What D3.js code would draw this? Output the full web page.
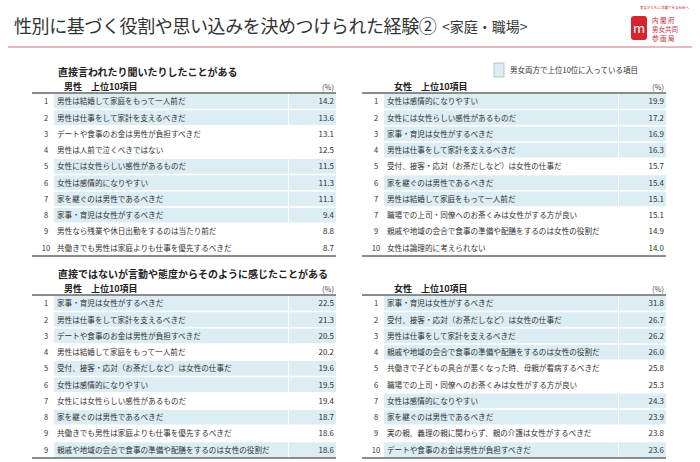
<!DOCTYPE html>
<html><head><meta charset="utf-8">
<script src="https://cdn.jsdelivr.net/npm/d3@7"></script>
<style>body{margin:0;background:#fff;font-family:"Noto Sans CJK JP",sans-serif;}</style>
</head><body><div id="chart"></div>
<script>
const width = 700, height = 462;

// data
const tlRanks = [1,2,3,4,5,6,7,8,9,10];
const tlItems = ["男性は結婚して家庭をもって一人前だ","男性は仕事をして家計を支えるべきだ","デートや食事のお金は男性が負担すべきだ","男性は人前で泣くべきではない","女性には女性らしい感性があるものだ","女性は感情的になりやすい","家を継ぐのは男性であるべきだ","家事・育児は女性がするべきだ","男性なら残業や休日出勤をするのは当たり前だ","共働きでも男性は家庭よりも仕事を優先するべきだ"];
const tlValues = [14.2,13.6,13.1,12.5,11.5,11.3,11.1,9.4,8.8,8.7];
const tlShared = [1,1,0,0,1,1,1,1,0,0];

const trRanks = [1,2,3,4,5,6,7,7,9,10];
const trItems = ["女性は感情的になりやすい","女性には女性らしい感性があるものだ","家事・育児は女性がするべきだ","男性は仕事をして家計を支えるべきだ","受付、接客・応対（お茶だしなど）は女性の仕事だ","家を継ぐのは男性であるべきだ","男性は結婚して家庭をもって一人前だ","職場での上司・同僚へのお茶くみは女性がする方が良い","親戚や地域の会合で食事の準備や配膳をするのは女性の役割だ","女性は論理的に考えられない"];
const trValues = [19.9,17.2,16.9,16.3,15.7,15.4,15.1,15.1,14.9,14.0];
const trShared = [1,1,1,1,0,1,1,0,0,0];

const blRanks = [1,2,3,4,5,6,7,8,9,9];
const blItems = ["家事・育児は女性がするべきだ","男性は仕事をして家計を支えるべきだ","デートや食事のお金は男性が負担すべきだ","男性は結婚して家庭をもって一人前だ","受付、接客・応対（お茶だしなど）は女性の仕事だ","女性は感情的になりやすい","女性には女性らしい感性があるものだ","家を継ぐのは男性であるべきだ","共働きでも男性は家庭よりも仕事を優先するべきだ","親戚や地域の会合で食事の準備や配膳をするのは女性の役割だ"];
const blValues = [22.5,21.3,20.5,20.2,19.6,19.5,19.4,18.7,18.6,18.6];
const blShared = [1,1,1,0,1,1,0,1,0,1];

const brRanks = [1,2,3,4,5,6,7,8,9,10];
const brItems = ["家事・育児は女性がするべきだ","受付、接客・応対（お茶だしなど）は女性の仕事だ","男性は仕事をして家計を支えるべきだ","親戚や地域の会合で食事の準備や配膳をするのは女性の役割だ","共働きで子どもの具合が悪くなった時、母親が看病するべきだ","職場での上司・同僚へのお茶くみは女性がする方が良い","女性は感情的になりやすい","家を継ぐのは男性であるべきだ","実の親、義理の親に関わらず、親の介護は女性がするべきだ","デートや食事のお金は男性が負担すべきだ"];
const brValues = [31.8,26.7,26.2,26.0,25.8,25.3,24.3,23.9,23.8,23.6];
const brShared = [1,1,1,1,0,0,1,1,0,1];

const svg = d3.select("#chart").append("svg").attr("width", width).attr("height", height);

// title
svg.append("text").attr("x", 14).attr("y", 33).attr("font-size", 18).attr("letter-spacing", -0.4)
  .attr("fill", "#333")
  .text("性別に基づく役割や思い込みを決めつけられた経験②");
svg.append("text").attr("x", 442).attr("y", 32).attr("font-size", 14).attr("fill", "#333")
  .text("<家庭・職場>");
svg.append("line").attr("x1", 8).attr("x2", 692).attr("y1", 47).attr("y2", 47)
  .attr("stroke", "#d9a3ad").attr("stroke-width", 1.5);

// logo
const logo = svg.append("g").attr("transform", "translate(631,16)");
logo.append("rect").attr("width", 16).attr("height", 24).attr("rx", 3).attr("fill", "#d7252e");
logo.append("text").attr("x", 8).attr("y", 17).attr("text-anchor", "middle").attr("font-size", 13)
  .attr("fill", "#fff").text("m");
["内 閣 府", "男女共同", "参 画 局"].forEach((t, i) =>
  logo.append("text").attr("x", 21).attr("y", 7 + i * 9).attr("font-size", 6.5).attr("fill", "#c0303a").text(t));
svg.append("text").attr("x", 640).attr("y", 9).attr("font-size", 3.5).attr("fill", "#c0303a")
  .text("男女がともに活躍できる社会へ");

// section headings
svg.append("text").attr("x", 58).attr("y", 76).attr("font-size", 10).attr("font-weight", "bold").attr("fill", "#222")
  .text("直接言われたり聞いたりしたことがある");
svg.append("text").attr("x", 58).attr("y", 278).attr("font-size", 10).attr("font-weight", "bold").attr("fill", "#222")
  .text("直接ではないが言動や態度からそのように感じたことがある");

// legend
svg.append("rect").attr("x", 494).attr("y", 63).attr("width", 10).attr("height", 14)
  .attr("fill", "#dcedf4").attr("stroke", "#8aa").attr("stroke-width", 0.6);
svg.append("text").attr("x", 510).attr("y", 73).attr("font-size", 7.5).attr("fill", "#333")
  .text("男女両方で上位10位に入っている項目");

function drawTable(x0, x1, divX, top, label, ranks, items, values, shared) {
  const g = svg.append("g");
  const y = d3.scaleBand().domain(d3.range(10)).range([top, top + 161]).paddingInner(0.1);
  g.append("text").attr("x", x0 + 32).attr("y", top - 3).attr("font-size", 9).attr("font-weight", "bold")
    .attr("fill", "#222").text(label);
  g.append("text").attr("x", x1 - 2).attr("y", top - 3).attr("font-size", 7.5).attr("text-anchor", "end")
    .attr("fill", "#444").text("(%)");
  g.append("line").attr("x1", x0).attr("x2", x1).attr("y1", top).attr("y2", top)
    .attr("stroke", "#666").attr("stroke-width", 1.5);
  const rows = g.selectAll("g.row").data(d3.range(10)).join("g").attr("class", "row")
    .attr("transform", i => `translate(0,${y(i) + 1})`);
  rows.filter(i => shared[i]).append("rect").attr("x", x0 + 22).attr("width", divX - x0 - 22)
    .attr("height", y.bandwidth()).attr("fill", "#dcedf4");
  rows.filter(i => shared[i]).append("rect").attr("x", divX + 1).attr("width", x1 - divX - 1)
    .attr("height", y.bandwidth()).attr("fill", "#dcedf4");
  rows.append("text").attr("x", x0 + 14).attr("y", y.bandwidth() / 2 + 3).attr("text-anchor", "middle")
    .attr("font-size", 7.5).attr("fill", "#333").text(i => ranks[i]);
  rows.append("text").attr("x", x0 + 25).attr("y", y.bandwidth() / 2 + 3)
    .attr("font-size", 7.6).attr("fill", "#333").text(i => items[i]);
  rows.append("text").attr("x", x1 - 2).attr("y", y.bandwidth() / 2 + 3).attr("text-anchor", "end")
    .attr("font-size", 8).attr("fill", "#333").text(i => values[i].toFixed(1));
  g.append("line").attr("x1", x0).attr("x2", x1).attr("y1", top + 163).attr("y2", top + 163)
    .attr("stroke", "#666").attr("stroke-width", 1.5);
}

drawTable(32, 336, 288, 93, "男性　上位10項目", tlRanks, tlItems, tlValues, tlShared);
drawTable(362, 666, 618, 93, "女性　上位10項目", trRanks, trItems, trValues, trShared);
drawTable(32, 336, 288, 295, "男性　上位10項目", blRanks, blItems, blValues, blShared);
drawTable(362, 666, 618, 295, "女性　上位10項目", brRanks, brItems, brValues, brShared);
</script></body></html>
